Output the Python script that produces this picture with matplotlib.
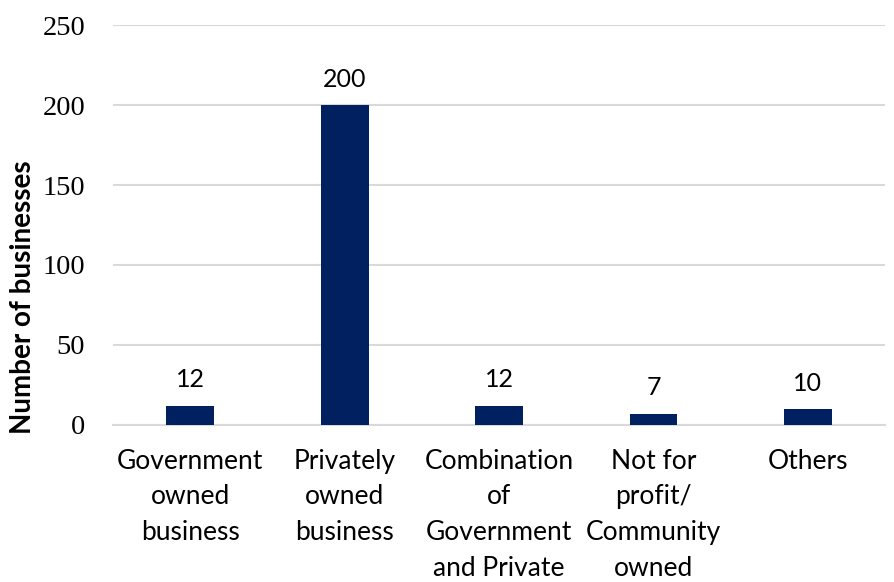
import numpy as np
import matplotlib.pyplot as plt

categories = ["Government\nowned\nbusiness", "Privately\nowned\nbusiness",
              "Combination\nof\nGovernment\nand Private",
              "Not for\nprofit/\nCommunity\nowned", "Others"]
counts = [12, 200, 12, 7, 10]
yticks = [0, 50, 100, 150, 200, 250]

bar_color = "#002060"
grid_color = "#d9d9d9"

fig = plt.figure(figsize=(8.94, 5.82), dpi=100)
ax = fig.add_axes([0.1264, 0.2698, 0.8636, 0.6872])

x = np.arange(len(categories))
bars = ax.bar(x, counts, width=0.31, color=bar_color, zorder=3)

for rect, v in zip(bars, counts):
    ax.text(rect.get_x() + rect.get_width() / 2, v + 9, str(v),
            ha="center", va="bottom", fontsize=18, family="Lato")

ax.set_xlim(-0.5, len(categories) - 0.5)
ax.set_ylim(0, 250)
ax.set_yticks(yticks)
ax.set_yticklabels([str(t) for t in yticks], family="Liberation Serif", fontsize=20.5)
ax.set_xticks(x)
ax.set_xticklabels(categories, family="Lato", fontsize=19, linespacing=1.54)
ax.tick_params(axis="both", length=0)
ax.tick_params(axis="y", pad=20)
ax.tick_params(axis="x", pad=17)

ax.yaxis.grid(True, color=grid_color, linewidth=1.5, zorder=0)
for side in ["top", "right", "left"]:
    ax.spines[side].set_visible(False)
ax.spines["bottom"].set_color(grid_color)
ax.spines["bottom"].set_linewidth(1.5)

ax.set_ylabel("Number of businesses", family="Lato", fontweight="bold",
              fontsize=20)
ax.yaxis.set_label_coords(-0.1, 0.32)

fig.savefig("out.png", dpi=100)
